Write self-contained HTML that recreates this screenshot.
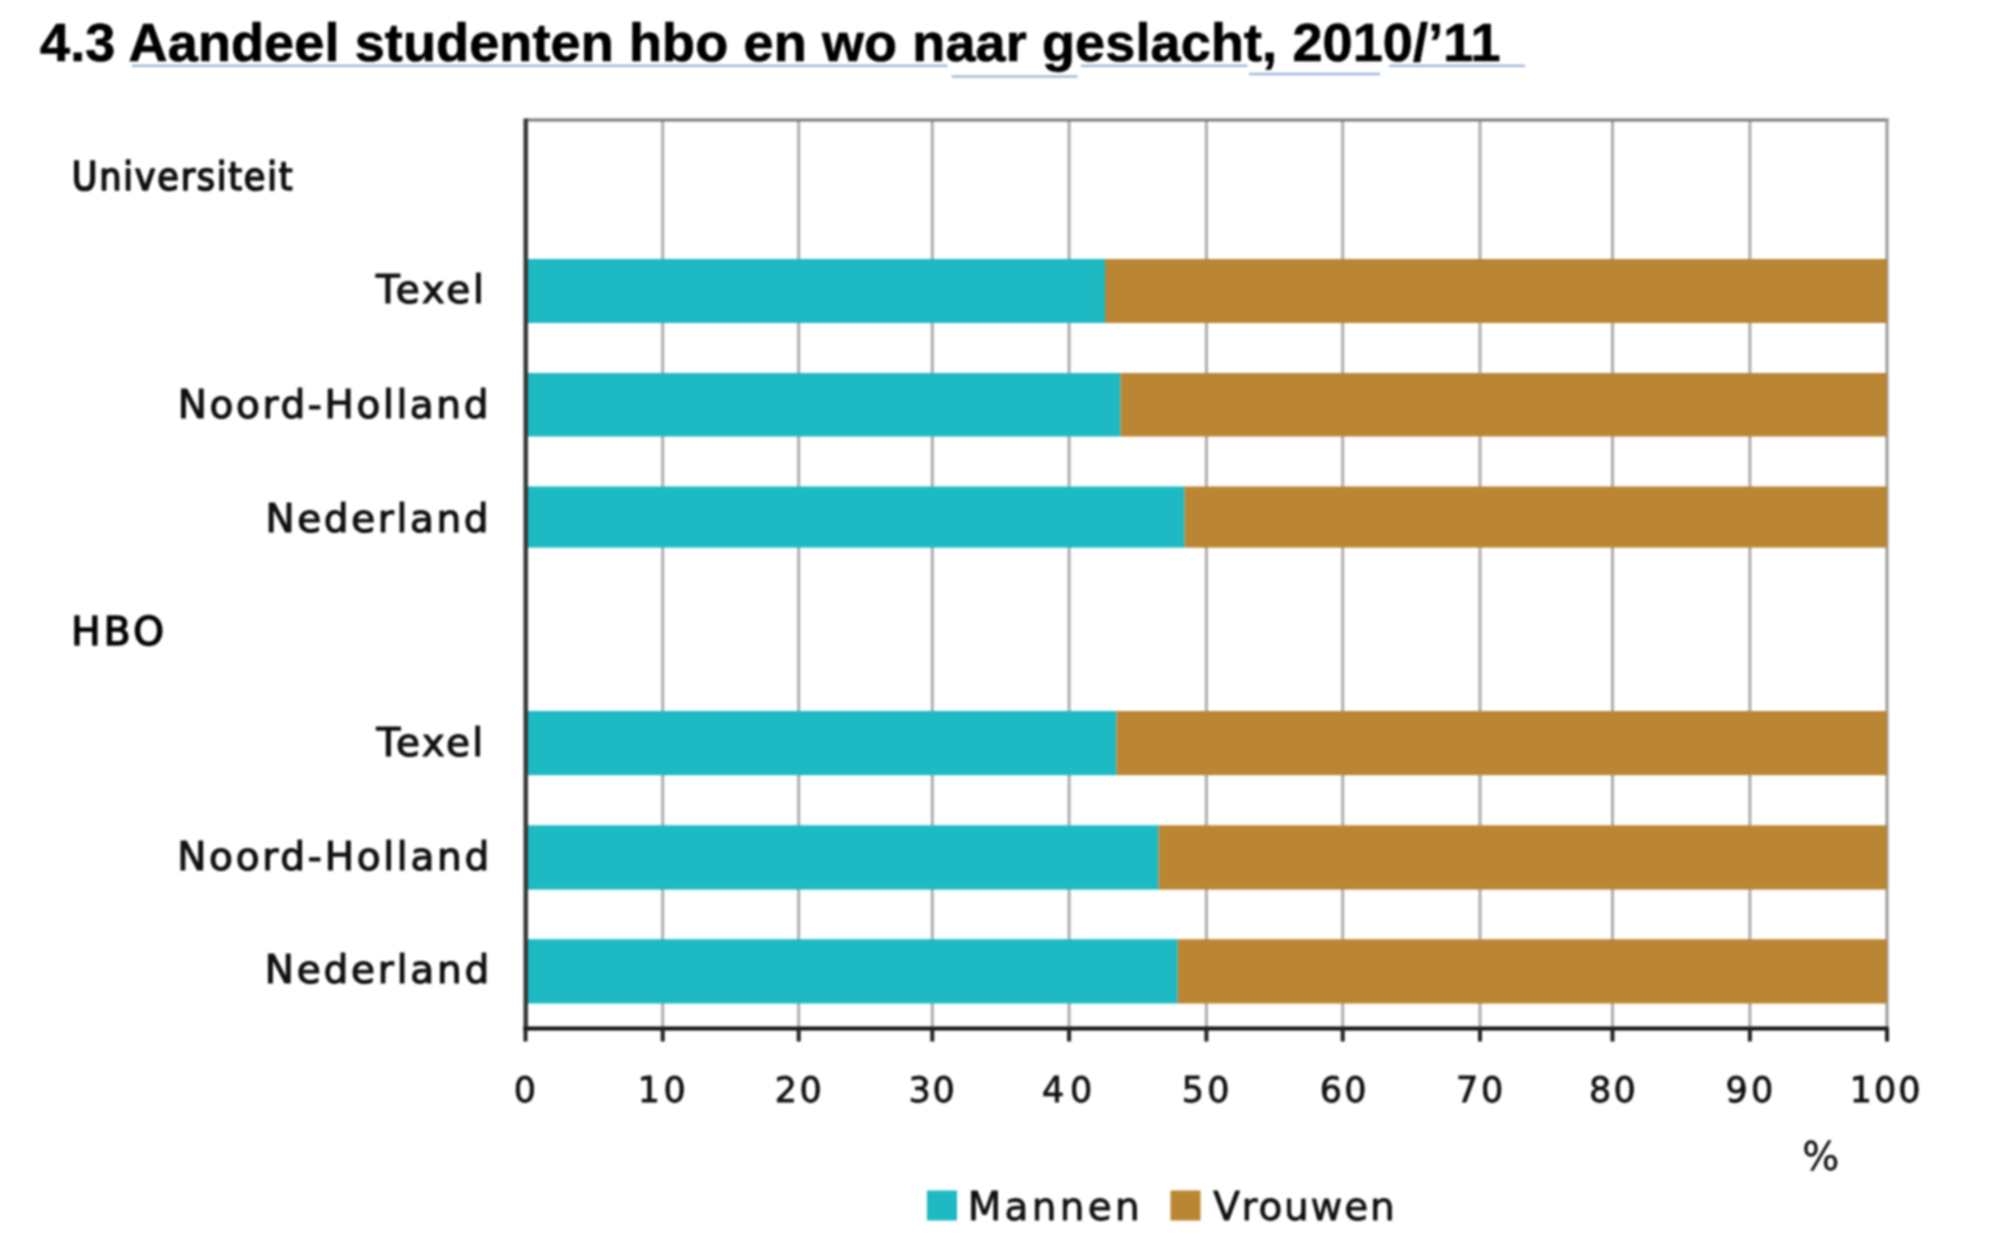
<!DOCTYPE html>
<html><head><meta charset="utf-8">
<style>
html,body{margin:0;padding:0;background:#fff;}
body{width:2000px;height:1259px;overflow:hidden;position:relative;}
svg{position:absolute;left:0;top:0;}
#wrap{position:absolute;left:0;top:0;width:2000px;height:1259px;filter:blur(1.2px);}
text{stroke-linejoin:round;}
.lab,.hdr,.hdr2,.tick,.leg{stroke:#111;stroke-width:1.2px;}
.tick,.leg{stroke-width:0.8px;}
.pc{stroke-width:0.4px;}
.hdr,.hdr2{stroke-width:1.6px;}
.title{font-family:"Liberation Sans",Arial,sans-serif;font-weight:bold;font-size:54px;fill:#000;stroke:#000;stroke-width:0.7px;}
.lab{font-family:"DejaVu Sans",Verdana,sans-serif;font-size:39px;fill:#111;}
.hdr{font-family:"DejaVu Sans Condensed","DejaVu Sans",sans-serif;font-size:39px;fill:#111;}
.hdr2{font-family:"DejaVu Sans",sans-serif;font-size:39px;fill:#000;}
.tick{font-family:"DejaVu Sans",Verdana,sans-serif;font-size:35px;fill:#111;}
</style></head>
<body>
<div id="wrap"><svg width="2000" height="1259" viewBox="0 0 2000 1259">
<rect x="132" y="64.6" width="815.5" height="2.4" fill="#9cb8d6"/>
<rect x="1081" y="64.6" width="166.5" height="2.4" fill="#9cb8d6"/>
<rect x="1389" y="64.6" width="136" height="2.4" fill="#9cb8d6"/>
<rect x="951.5" y="75.3" width="126.0" height="2.4" fill="#9cb8d6"/>
<rect x="1249" y="72.8" width="131" height="2.4" fill="#9cb8d6"/>
<rect x="661.2" y="121" width="3" height="907" fill="#acacac"/>
<rect x="797.2" y="121" width="3" height="907" fill="#acacac"/>
<rect x="930.8" y="121" width="3" height="907" fill="#acacac"/>
<rect x="1067.6" y="121" width="3" height="907" fill="#acacac"/>
<rect x="1204.9" y="121" width="3" height="907" fill="#acacac"/>
<rect x="1341.2" y="121" width="3" height="907" fill="#acacac"/>
<rect x="1478.5" y="121" width="3" height="907" fill="#acacac"/>
<rect x="1611.0" y="121" width="3" height="907" fill="#acacac"/>
<rect x="1748.4" y="121" width="3" height="907" fill="#acacac"/>
<rect x="525.5" y="118.5" width="1363.0" height="3" fill="#7a7a7a"/>
<rect x="1885.5" y="118.5" width="3" height="910" fill="#999"/>
<rect x="525.5" y="259" width="579.5" height="64.0" fill="#1dbac4"/>
<rect x="1105.0" y="259" width="782.0" height="64.0" fill="#bb8634"/>
<rect x="525.5" y="373" width="595.0" height="63.5" fill="#1dbac4"/>
<rect x="1120.5" y="373" width="766.5" height="63.5" fill="#bb8634"/>
<rect x="525.5" y="486.5" width="659.0" height="61.1" fill="#1dbac4"/>
<rect x="1184.5" y="486.5" width="702.5" height="61.1" fill="#bb8634"/>
<rect x="525.5" y="711" width="590.9" height="64.2" fill="#1dbac4"/>
<rect x="1116.4" y="711" width="770.6" height="64.2" fill="#bb8634"/>
<rect x="525.5" y="825.3" width="633.1" height="64.3" fill="#1dbac4"/>
<rect x="1158.6" y="825.3" width="728.4" height="64.3" fill="#bb8634"/>
<rect x="525.5" y="939.2" width="652.2" height="64.3" fill="#1dbac4"/>
<rect x="1177.7" y="939.2" width="709.3" height="64.3" fill="#bb8634"/>
<rect x="523.5" y="118.5" width="4.5" height="912" fill="#383838"/>
<rect x="523.5" y="1026.5" width="1365.0" height="4" fill="#111"/>
<rect x="523.5" y="1028" width="4" height="13.5" fill="#222"/>
<rect x="660.7" y="1028" width="4" height="13.5" fill="#222"/>
<rect x="796.7" y="1028" width="4" height="13.5" fill="#222"/>
<rect x="930.3" y="1028" width="4" height="13.5" fill="#222"/>
<rect x="1067.1" y="1028" width="4" height="13.5" fill="#222"/>
<rect x="1204.4" y="1028" width="4" height="13.5" fill="#222"/>
<rect x="1340.7" y="1028" width="4" height="13.5" fill="#222"/>
<rect x="1478.0" y="1028" width="4" height="13.5" fill="#222"/>
<rect x="1610.5" y="1028" width="4" height="13.5" fill="#222"/>
<rect x="1747.9" y="1028" width="4" height="13.5" fill="#222"/>
<rect x="1885.0" y="1028" width="4" height="13.5" fill="#222"/>
<text class="title" x="40.0" y="60.8" style="letter-spacing:0.13px">4.3 Aandeel studenten hbo en wo naar geslacht, 2010/’11</text>
<text class="hdr" x="71.8" y="189.5" style="letter-spacing:1.76px">Universiteit</text>
<text class="lab" x="376.0" y="303.2" style="letter-spacing:2.65px">Texel</text>
<text class="lab" x="177.8" y="417.5" style="letter-spacing:2.61px">Noord-Holland</text>
<text class="lab" x="265.4" y="531.5" style="letter-spacing:2.63px">Nederland</text>
<text class="hdr2" x="71.2" y="645" style="letter-spacing:3.30px">HBO</text>
<text class="lab" x="376.4" y="755.9" style="letter-spacing:2.40px">Texel</text>
<text class="lab" x="177.2" y="869.6" style="letter-spacing:2.73px">Noord-Holland</text>
<text class="lab" x="264.8" y="983.2" style="letter-spacing:2.79px">Nederland</text>
<text class="lab pc" x="1802.2" y="1169.6">%</text>
<text class="lab leg" x="967.7" y="1219.8" style="letter-spacing:3.26px">Mannen</text>
<text class="lab leg" x="1213.2" y="1219.8" style="letter-spacing:1.74px">Vrouwen</text>
<text class="tick" x="524.9" y="1102" text-anchor="middle">0</text>
<text class="tick" x="663.4" y="1102" text-anchor="middle" style="letter-spacing:3.40px">10</text>
<text class="tick" x="799.5" y="1102" text-anchor="middle" style="letter-spacing:2.40px">20</text>
<text class="tick" x="932.6" y="1102" text-anchor="middle" style="letter-spacing:1.80px">30</text>
<text class="tick" x="1070.0" y="1102" text-anchor="middle" style="letter-spacing:5.80px">40</text>
<text class="tick" x="1207.3" y="1102" text-anchor="middle" style="letter-spacing:3.40px">50</text>
<text class="tick" x="1344.3" y="1102" text-anchor="middle" style="letter-spacing:2.40px">60</text>
<text class="tick" x="1481.0" y="1102" text-anchor="middle" style="letter-spacing:2.80px">70</text>
<text class="tick" x="1613.4" y="1102" text-anchor="middle" style="letter-spacing:2.20px">80</text>
<text class="tick" x="1750.9" y="1102" text-anchor="middle" style="letter-spacing:3.20px">90</text>
<text class="tick" x="1886.1" y="1102" text-anchor="middle" style="letter-spacing:1.90px">100</text>
<rect x="927" y="1190.5" width="30" height="30" fill="#1dbac4"/>
<rect x="1170.5" y="1190.5" width="30" height="30" fill="#bb8634"/>
</svg></div>
</body></html>
